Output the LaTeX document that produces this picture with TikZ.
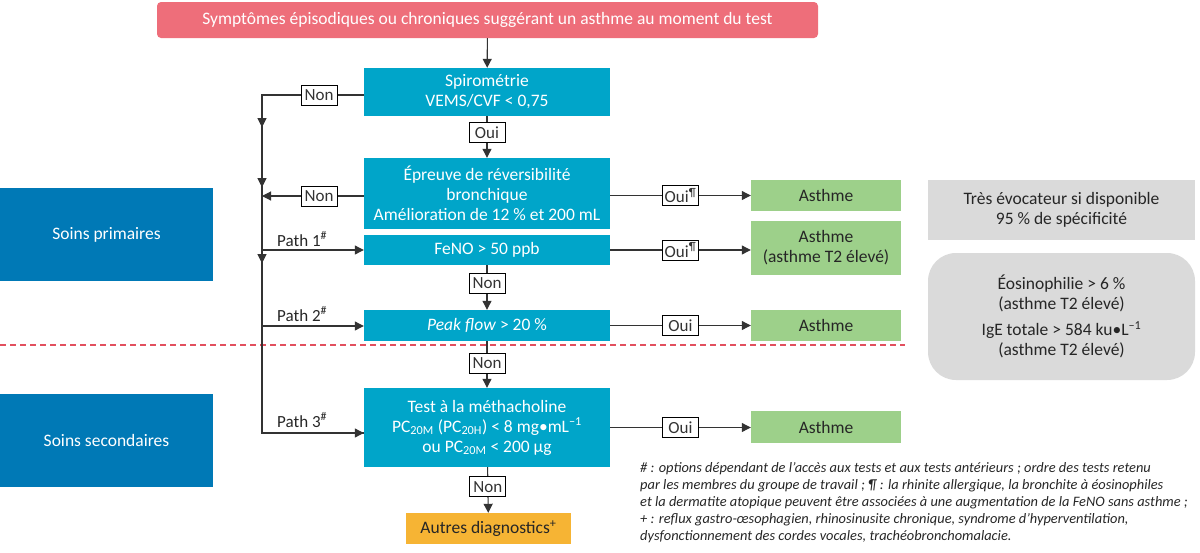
\documentclass[tikz,border=0pt]{standalone}
\usepackage{fontspec}
\setmainfont{Carlito}
\usetikzlibrary{arrows.meta,decorations.markings}
\definecolor{cpink}{HTML}{EE6E7A}
\definecolor{ccyan}{HTML}{00A5C9}
\definecolor{cblue}{HTML}{0079B6}
\definecolor{cgreen}{HTML}{9DD08A}
\definecolor{cgray}{HTML}{DADADA}
\definecolor{corange}{HTML}{F6B434}
\definecolor{cdash}{HTML}{E2505E}
\begin{document}
\begin{tikzpicture}[x=1pt,y=-1pt,
  base/.style={inner sep=0pt, align=center, font=\fontsize{17.5}{20}\selectfont},
  cyanbox/.style={base, fill=ccyan, text=white, minimum width=246pt},
  greenbox/.style={base, fill=cgreen, text=black!85, minimum width=150pt},
  sidebox/.style={base, fill=cblue, text=white, minimum width=213pt, minimum height=93pt},
  graybox/.style={base, fill=cgray, text=black!85, minimum width=267pt},
  lab/.style={draw=black, line width=0.8pt, fill=white, inner sep=0pt, minimum width=36pt, minimum height=20pt, font=\fontsize{17}{18}\selectfont},
  pathlab/.style={inner sep=0pt, font=\fontsize{17}{18}\selectfont, text=black!85},
  conn/.style={line width=1.1pt, black!80},
  arr/.style={conn, -{Triangle[length=9pt,width=9pt]}},
  sep/.style={color=cdash, line width=1.4pt, dash pattern=on 6pt off 4pt},
]
\useasboundingbox (0,0) rectangle (1200,552);

% boxes
\node[base, fill=cpink, text=white, minimum width=661pt, minimum height=36pt, rounded corners=4pt] (top) at (487.5,20) {Symptômes épisodiques ou chroniques suggérant un asthme au moment du test};
\node[cyanbox, minimum height=48pt] (spiro) at (487,92) {Spirométrie\\VEMS/CVF < 0,75};
\node[cyanbox, minimum height=71pt] (epr) at (487,193.5) {Épreuve de réversibilité\\bronchique\\Amélioration de 12 \% et 200 mL};
\node[cyanbox, minimum height=30pt] (feno) at (487,250) {FeNO > 50 ppb};
\node[cyanbox, minimum height=31pt] (peak) at (487,325.5) {\textit{Peak flow} > 20 \%};
\node[cyanbox, minimum height=79pt] (meth) at (487,427.5) {Test à la méthacholine\\PC\textsubscript{20M} (PC\textsubscript{20H}) < 8 mg•mL\textsuperscript{–1}\\ou PC\textsubscript{20M} < 200 µg};
\node[base, fill=corange, text=black!85, minimum width=165pt, minimum height=31pt] (autres) at (488.5,528.5) {Autres diagnostics\textsuperscript{+}};

\node[greenbox, minimum height=31pt] (g1) at (826,195.5) {Asthme};
\node[greenbox, minimum height=54pt] (g2) at (826,248) {Asthme\\(asthme T2 élevé)};
\node[greenbox, minimum height=31pt] (g3) at (826,325.5) {Asthme};
\node[greenbox, minimum height=32pt] (g4) at (826,427) {Asthme};

\node[sidebox] (prim) at (106.5,234.5) {Soins primaires};
\node[sidebox] (sec) at (106.5,440.5) {Soins secondaires};

\node[graybox, minimum height=60pt] (gr1) at (1061.5,210) {Très évocateur si disponible\\95 \% de spécificité};
\node[graybox, minimum height=127pt, rounded corners=28pt] (gr2) at (1061.5,316.5) {Éosinophilie > 6 \%\\(asthme T2 élevé)\\[6pt]IgE totale > 584 ku•L\textsuperscript{–1}\\(asthme T2 élevé)};

% dashed separator
\coordinate (d1) at (0,345);
\coordinate (d2) at (905,345);
\draw[sep] (d1) -- (d2);

% left vertical bus
\coordinate (L1) at (262,95);
\coordinate (L2) at (262,196);
\coordinate (Lp1) at (262,250);
\coordinate (Lp2) at (262,326);
\coordinate (L3) at (262,433);
\draw[conn, postaction={decorate}, decoration={markings,
   mark=at position 47pt with {\arrow{Triangle[length=9pt,width=9pt]}},
   mark=at position 134pt with {\arrow{Triangle[length=9pt,width=9pt]}},
   mark=at position 194pt with {\arrow{Triangle[length=9pt,width=9pt]}},
   mark=at position 270pt with {\arrow{Triangle[length=9pt,width=9pt]}}}]
   (spiro.west |- L1) -- node[lab, pos=0.44]{Non} (L1) -- (L3) -- (L3 -| meth.west);
\draw[arr] (L3) -- (L3 -| meth.west);
\draw[arr] (epr.west |- L2) -- node[lab, pos=0.44]{Non} (L2);
\draw[arr] (Lp1) -- (feno.west);
\draw[arr] (Lp2) -- (Lp2 -| peak.west);
\node[pathlab, anchor=base west] (p1) at (277,246) {Path 1\textsuperscript{\#}};
\node[pathlab, anchor=base west] (p2) at (277,321) {Path 2\textsuperscript{\#}};
\node[pathlab, anchor=base west] (p3) at (277,427) {Path 3\textsuperscript{\#}};

% main vertical flow
\draw[arr] (top) -- (spiro);
\draw[arr] (spiro) -- node[lab, pos=0.4]{Oui} (epr);
\draw[arr] (feno) -- node[lab, pos=0.4]{Non} (peak);
\draw[arr] (peak) -- node[lab, pos=0.47]{Non} (meth);
\draw[arr] (meth) -- node[lab, pos=0.43]{Non} (autres);

% Oui arrows to the right
\draw[arr] (epr.east |- g1) -- node[lab, pos=0.5]{Oui\textsuperscript{¶}} (g1.west);
\draw[arr] (feno.east) -- node[lab, pos=0.5]{Oui\textsuperscript{¶}} (feno.east -| g2.west);
\draw[arr] (peak.east) -- node[lab, pos=0.5]{Oui} (g3.west);
\draw[arr] (meth.east) -- node[lab, pos=0.5]{Oui} (meth.east -| g4.west);

% footnote
\node[anchor=north west, inner sep=0pt, align=left, text=black!85, font=\fontsize{14.4}{17}\selectfont\itshape] (foot) at (640,462) {\#~: options dépendant de l'accès aux tests et aux tests antérieurs ; ordre des tests retenu\\par les membres du groupe de travail ; ¶ : la rhinite allergique, la bronchite à éosinophiles\\et la dermatite atopique peuvent être associées à une augmentation de la FeNO sans asthme ;\\+ : reflux gastro-œsophagien, rhinosinusite chronique, syndrome d'hyperventilation,\\dysfonctionnement des cordes vocales, trachéobronchomalacie.};
\end{tikzpicture}
\end{document}
